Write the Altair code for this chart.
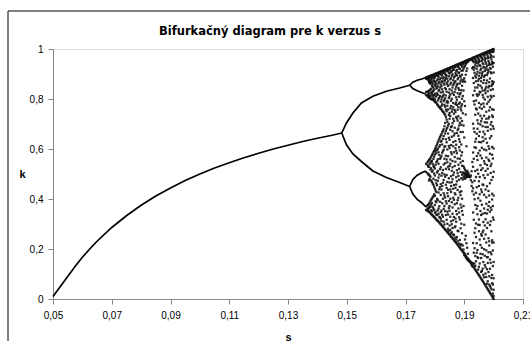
import altair as alt
import pandas as pd

TITLE = "Bifurkačný diagram pre k verzus s"

# single stable state (s < 0.148)
S_FIXED = [0.050, 0.0525, 0.055, 0.0575, 0.060, 0.0625, 0.065, 0.070, 0.075, 0.080,
           0.085, 0.090, 0.095, 0.100, 0.105, 0.110, 0.115, 0.120, 0.125, 0.130,
           0.135, 0.140, 0.145, 0.1483]
K_FIXED = [0.010, 0.050, 0.090, 0.130, 0.167, 0.200, 0.231, 0.286, 0.333, 0.375,
           0.412, 0.444, 0.474, 0.500, 0.524, 0.545, 0.565, 0.583, 0.600, 0.615,
           0.630, 0.643, 0.655, 0.664]

# period-2 branches
S_P2 = [0.1483, 0.1499, 0.1521, 0.1550, 0.1589, 0.1635, 0.1680, 0.1714]
K_P2_UPPER = [0.664, 0.704, 0.744, 0.784, 0.811, 0.831, 0.844, 0.855]
K_P2_LOWER = [0.664, 0.617, 0.580, 0.550, 0.512, 0.486, 0.466, 0.450]

# period-4 loops
S_P4 = [0.1714, 0.1725, 0.1740, 0.1755, 0.1768]
K_P4_UPPER_OUT = [0.855, 0.867, 0.875, 0.880, 0.885]
K_P4_UPPER_IN = [0.855, 0.842, 0.833, 0.826, 0.820]
K_P4_LOWER_OUT = [0.450, 0.478, 0.495, 0.505, 0.512]
K_P4_LOWER_IN = [0.450, 0.420, 0.398, 0.385, 0.370]

# scattered states, one column per s value
S_CHAOS = [0.1770, 0.1775, 0.1780, 0.1785, 0.1790, 0.1795, 0.1800, 0.1805, 0.1810, 0.1815,
           0.1820, 0.1825, 0.1830, 0.1835, 0.1840, 0.1845, 0.1850, 0.1855, 0.1860, 0.1865,
           0.1870, 0.1875, 0.1880, 0.1885, 0.1890, 0.1895, 0.1900, 0.1905, 0.1910, 0.1915,
           0.1920, 0.1925, 0.1930, 0.1935, 0.1940, 0.1945, 0.1950, 0.1955, 0.1960, 0.1965,
           0.1970, 0.1975, 0.1980, 0.1985, 0.1990, 0.1995, 0.2000]
K_CHAOS = [
    [0.887, 0.881, 0.828, 0.815, 0.541, 0.508, 0.371, 0.356],
    [0.889, 0.883, 0.879, 0.830, 0.818, 0.811, 0.547, 0.536, 0.503, 0.374, 0.362, 0.352],
    [0.891, 0.885, 0.876, 0.868, 0.833, 0.822, 0.806, 0.556, 0.528, 0.497, 0.474, 0.381, 0.365, 0.349],
    [0.893, 0.889, 0.872, 0.861, 0.838, 0.811, 0.802, 0.563, 0.545, 0.517, 0.489, 0.393, 0.370, 0.343],
    [0.895, 0.884, 0.866, 0.853, 0.827, 0.819, 0.799, 0.575, 0.552, 0.509, 0.468, 0.402, 0.384, 0.351, 0.337],
    [0.897, 0.891, 0.874, 0.846, 0.833, 0.804, 0.796, 0.587, 0.560, 0.533, 0.481, 0.457, 0.411, 0.362, 0.331],
    [0.900, 0.887, 0.869, 0.857, 0.821, 0.798, 0.789, 0.599, 0.578, 0.522, 0.494, 0.441, 0.413, 0.376, 0.345, 0.325],
    [0.902, 0.895, 0.861, 0.842, 0.813, 0.785, 0.612, 0.583, 0.547, 0.463, 0.428, 0.387, 0.338, 0.318],
    [0.904, 0.892, 0.879, 0.851, 0.817, 0.794, 0.776, 0.627, 0.601, 0.559, 0.512, 0.473, 0.395, 0.354, 0.312],
    [0.907, 0.899, 0.868, 0.836, 0.805, 0.768, 0.641, 0.608, 0.576, 0.498, 0.439, 0.371, 0.329, 0.306],
    [0.909, 0.902, 0.884, 0.858, 0.826, 0.789, 0.761, 0.654, 0.629, 0.566, 0.527, 0.459, 0.416, 0.347, 0.321, 0.299],
    [0.912, 0.894, 0.871, 0.839, 0.807, 0.779, 0.753, 0.667, 0.618, 0.585, 0.504, 0.452, 0.383, 0.337, 0.292],
    [0.914, 0.906, 0.887, 0.862, 0.818, 0.791, 0.746, 0.679, 0.652, 0.597, 0.538, 0.476, 0.423, 0.361, 0.309, 0.285],
    [0.917, 0.901, 0.876, 0.844, 0.803, 0.769, 0.737, 0.704, 0.662, 0.611, 0.543, 0.489, 0.406, 0.352, 0.278],
    [0.919, 0.911, 0.893, 0.865, 0.829, 0.786, 0.751, 0.718, 0.681, 0.627, 0.558, 0.496, 0.444, 0.382, 0.317, 0.271],
    [0.922, 0.913, 0.871, 0.852, 0.786, 0.758, 0.694, 0.662, 0.571, 0.529, 0.437, 0.411, 0.338, 0.281, 0.264],
    [0.924, 0.917, 0.902, 0.839, 0.811, 0.744, 0.721, 0.637, 0.604, 0.532, 0.466, 0.372, 0.353, 0.294, 0.257],
    [0.927, 0.908, 0.883, 0.865, 0.793, 0.772, 0.688, 0.616, 0.587, 0.491, 0.452, 0.428, 0.311, 0.262, 0.249],
    [0.929, 0.924, 0.899, 0.846, 0.823, 0.758, 0.703, 0.671, 0.552, 0.527, 0.479, 0.366, 0.341, 0.284, 0.242],
    [0.932, 0.918, 0.886, 0.862, 0.816, 0.741, 0.712, 0.654, 0.587, 0.506, 0.456, 0.397, 0.328, 0.256, 0.235],
    [0.934, 0.927, 0.903, 0.871, 0.839, 0.779, 0.748, 0.632, 0.603, 0.549, 0.445, 0.418, 0.322, 0.291, 0.228],
    [0.937, 0.916, 0.894, 0.857, 0.797, 0.776, 0.722, 0.664, 0.583, 0.515, 0.471, 0.383, 0.339, 0.248, 0.221],
    [0.939, 0.931, 0.907, 0.884, 0.844, 0.768, 0.731, 0.682, 0.653, 0.537, 0.492, 0.405, 0.362, 0.271, 0.213],
    [0.942, 0.921, 0.893, 0.862, 0.819, 0.786, 0.705, 0.629, 0.594, 0.561, 0.449, 0.427, 0.318, 0.236, 0.205],
    [0.944, 0.936, 0.913, 0.878, 0.835, 0.771, 0.754, 0.697, 0.618, 0.574, 0.483, 0.431, 0.366, 0.301, 0.219, 0.197],
    [0.947, 0.938, 0.914, 0.869, 0.812, 0.743, 0.668, 0.552, 0.506, 0.478, 0.337, 0.214, 0.189],
    [0.949, 0.946, 0.927, 0.883, 0.791, 0.646, 0.524, 0.502, 0.491, 0.297, 0.183, 0.176],
    [0.952, 0.950, 0.939, 0.897, 0.738, 0.509, 0.498, 0.485, 0.253, 0.172, 0.167],
    [0.955, 0.953, 0.948, 0.922, 0.513, 0.494, 0.489, 0.205, 0.164, 0.159],
    [0.957, 0.956, 0.952, 0.501, 0.493, 0.488, 0.158, 0.155, 0.152],
    [0.959, 0.959, 0.488, 0.488, 0.149, 0.149],
    [0.962, 0.958, 0.511, 0.452, 0.146, 0.136],
    [0.965, 0.952, 0.928, 0.884, 0.815, 0.701, 0.586, 0.529, 0.443, 0.346, 0.224, 0.143, 0.130],
    [0.967, 0.961, 0.926, 0.905, 0.833, 0.778, 0.668, 0.607, 0.473, 0.399, 0.265, 0.203, 0.141, 0.122],
    [0.970, 0.953, 0.944, 0.886, 0.871, 0.794, 0.762, 0.641, 0.605, 0.488, 0.425, 0.302, 0.248, 0.151, 0.113],
    [0.972, 0.966, 0.931, 0.909, 0.846, 0.812, 0.715, 0.681, 0.556, 0.517, 0.372, 0.339, 0.196, 0.167, 0.104],
    [0.975, 0.957, 0.949, 0.893, 0.881, 0.818, 0.784, 0.652, 0.628, 0.471, 0.452, 0.318, 0.271, 0.129, 0.095],
    [0.977, 0.970, 0.932, 0.916, 0.853, 0.827, 0.733, 0.698, 0.574, 0.535, 0.393, 0.352, 0.216, 0.181, 0.086],
    [0.980, 0.963, 0.953, 0.901, 0.893, 0.845, 0.761, 0.722, 0.605, 0.563, 0.428, 0.377, 0.253, 0.205, 0.112, 0.077],
    [0.982, 0.974, 0.939, 0.926, 0.864, 0.806, 0.782, 0.669, 0.632, 0.495, 0.456, 0.308, 0.274, 0.148, 0.097, 0.068],
    [0.985, 0.966, 0.955, 0.912, 0.895, 0.834, 0.798, 0.707, 0.659, 0.541, 0.484, 0.344, 0.294, 0.173, 0.136, 0.058],
    [0.987, 0.978, 0.941, 0.925, 0.863, 0.849, 0.749, 0.721, 0.595, 0.566, 0.407, 0.381, 0.226, 0.195, 0.088, 0.049],
    [0.990, 0.971, 0.963, 0.917, 0.904, 0.831, 0.809, 0.688, 0.673, 0.521, 0.497, 0.357, 0.305, 0.168, 0.144, 0.071, 0.039],
    [0.992, 0.983, 0.945, 0.936, 0.867, 0.852, 0.754, 0.729, 0.601, 0.552, 0.414, 0.388, 0.231, 0.214, 0.091, 0.058, 0.030],
    [0.995, 0.977, 0.967, 0.921, 0.907, 0.836, 0.813, 0.698, 0.679, 0.532, 0.504, 0.366, 0.311, 0.187, 0.145, 0.046, 0.020],
    [0.997, 0.988, 0.949, 0.939, 0.871, 0.858, 0.759, 0.734, 0.608, 0.577, 0.421, 0.398, 0.235, 0.226, 0.096, 0.063, 0.010],
    [1.000, 0.991, 0.969, 0.944, 0.906, 0.868, 0.812, 0.757, 0.681, 0.602, 0.509, 0.414, 0.317, 0.226, 0.148, 0.083, 0.037, 0.012, 0.000],
]

# in-between columns of scattered states
S_CHAOS_MID = [0.17775, 0.17825, 0.17875, 0.17925, 0.17975, 0.18025, 0.18075, 0.18125, 0.18175,
               0.18225, 0.18275, 0.18325, 0.18375, 0.18425, 0.18475, 0.18525, 0.18575, 0.18625,
               0.18675, 0.18725, 0.18775, 0.18825, 0.18875, 0.18925, 0.18975, 0.19025, 0.19075,
               0.19125, 0.19175, 0.19225, 0.19275, 0.19325, 0.19375, 0.19425, 0.19475, 0.19525,
               0.19575, 0.19625, 0.19675, 0.19725, 0.19775, 0.19825, 0.19875, 0.19925, 0.19975]
K_CHAOS_MID = [
    [0.888, 0.884, 0.877, 0.829, 0.816, 0.808, 0.551, 0.530, 0.499, 0.377, 0.360, 0.351],
    [0.891, 0.887, 0.870, 0.864, 0.835, 0.814, 0.804, 0.559, 0.539, 0.493, 0.480, 0.386, 0.368, 0.346],
    [0.894, 0.879, 0.869, 0.841, 0.824, 0.800, 0.570, 0.549, 0.523, 0.474, 0.397, 0.377, 0.355, 0.340],
    [0.896, 0.890, 0.861, 0.849, 0.830, 0.812, 0.797, 0.581, 0.541, 0.514, 0.462, 0.407, 0.368, 0.334],
    [0.898, 0.882, 0.871, 0.838, 0.816, 0.793, 0.592, 0.569, 0.528, 0.502, 0.449, 0.419, 0.357, 0.328],
    [0.901, 0.893, 0.866, 0.852, 0.809, 0.787, 0.605, 0.591, 0.537, 0.475, 0.434, 0.391, 0.349, 0.322],
    [0.903, 0.897, 0.874, 0.845, 0.823, 0.779, 0.619, 0.596, 0.551, 0.506, 0.455, 0.401, 0.336, 0.315],
    [0.906, 0.889, 0.862, 0.833, 0.801, 0.771, 0.634, 0.587, 0.541, 0.486, 0.426, 0.362, 0.341, 0.309],
    [0.908, 0.901, 0.878, 0.846, 0.812, 0.764, 0.648, 0.615, 0.561, 0.519, 0.447, 0.389, 0.326, 0.302],
    [0.911, 0.896, 0.867, 0.851, 0.798, 0.772, 0.758, 0.659, 0.633, 0.573, 0.493, 0.438, 0.354, 0.312, 0.296],
    [0.913, 0.904, 0.882, 0.829, 0.812, 0.749, 0.672, 0.641, 0.592, 0.516, 0.465, 0.401, 0.329, 0.289],
    [0.916, 0.909, 0.872, 0.857, 0.797, 0.776, 0.741, 0.691, 0.608, 0.561, 0.498, 0.414, 0.372, 0.298, 0.282],
    [0.918, 0.896, 0.884, 0.839, 0.814, 0.758, 0.728, 0.672, 0.639, 0.573, 0.521, 0.457, 0.391, 0.336, 0.275],
    [0.921, 0.914, 0.881, 0.859, 0.792, 0.773, 0.709, 0.686, 0.598, 0.547, 0.468, 0.423, 0.349, 0.301, 0.268],
    [0.923, 0.905, 0.891, 0.826, 0.804, 0.736, 0.701, 0.645, 0.612, 0.519, 0.483, 0.392, 0.364, 0.273, 0.261],
    [0.926, 0.919, 0.879, 0.858, 0.819, 0.763, 0.732, 0.677, 0.558, 0.541, 0.438, 0.401, 0.329, 0.276, 0.254],
    [0.928, 0.911, 0.893, 0.834, 0.801, 0.749, 0.691, 0.649, 0.579, 0.513, 0.467, 0.387, 0.299, 0.267, 0.247],
    [0.931, 0.916, 0.875, 0.856, 0.784, 0.767, 0.721, 0.628, 0.611, 0.496, 0.441, 0.405, 0.315, 0.258, 0.240],
    [0.933, 0.928, 0.891, 0.867, 0.828, 0.756, 0.685, 0.662, 0.568, 0.532, 0.423, 0.379, 0.287, 0.246, 0.232],
    [0.936, 0.911, 0.898, 0.849, 0.807, 0.786, 0.728, 0.617, 0.593, 0.487, 0.458, 0.352, 0.309, 0.239, 0.225],
    [0.938, 0.929, 0.879, 0.861, 0.823, 0.757, 0.714, 0.676, 0.562, 0.503, 0.436, 0.395, 0.273, 0.231, 0.217],
    [0.941, 0.922, 0.904, 0.837, 0.809, 0.781, 0.694, 0.639, 0.607, 0.521, 0.477, 0.346, 0.327, 0.222, 0.209],
    [0.943, 0.937, 0.889, 0.871, 0.824, 0.762, 0.723, 0.668, 0.546, 0.508, 0.416, 0.378, 0.283, 0.215, 0.201],
    [0.946, 0.929, 0.897, 0.853, 0.801, 0.779, 0.712, 0.587, 0.533, 0.497, 0.401, 0.352, 0.263, 0.194],
    [0.948, 0.942, 0.921, 0.876, 0.834, 0.694, 0.531, 0.504, 0.486, 0.372, 0.198, 0.186],
    [0.951, 0.947, 0.933, 0.869, 0.772, 0.517, 0.499, 0.481, 0.238, 0.179, 0.174],
    [0.954, 0.951, 0.944, 0.912, 0.611, 0.503, 0.492, 0.223, 0.169, 0.163],
    [0.956, 0.955, 0.950, 0.506, 0.496, 0.490, 0.181, 0.161, 0.157],
    [0.958, 0.957, 0.490, 0.489, 0.153, 0.151],
    [0.960, 0.958, 0.494, 0.475, 0.146, 0.143],
    [0.964, 0.955, 0.923, 0.548, 0.467, 0.431, 0.139, 0.131],
    [0.966, 0.947, 0.917, 0.864, 0.791, 0.682, 0.561, 0.418, 0.317, 0.185, 0.127],
    [0.968, 0.958, 0.935, 0.893, 0.846, 0.737, 0.629, 0.512, 0.376, 0.283, 0.172, 0.132, 0.118],
    [0.971, 0.949, 0.921, 0.899, 0.819, 0.758, 0.661, 0.572, 0.447, 0.361, 0.223, 0.185, 0.109],
    [0.973, 0.962, 0.942, 0.873, 0.857, 0.742, 0.702, 0.583, 0.501, 0.403, 0.297, 0.164, 0.118, 0.100],
    [0.976, 0.951, 0.935, 0.905, 0.829, 0.766, 0.669, 0.594, 0.488, 0.419, 0.296, 0.238, 0.142, 0.091],
    [0.978, 0.967, 0.921, 0.884, 0.871, 0.778, 0.711, 0.627, 0.516, 0.438, 0.336, 0.259, 0.164, 0.108, 0.082],
    [0.981, 0.959, 0.943, 0.908, 0.834, 0.816, 0.691, 0.647, 0.523, 0.458, 0.341, 0.267, 0.179, 0.121, 0.073],
    [0.983, 0.975, 0.927, 0.889, 0.876, 0.769, 0.733, 0.598, 0.551, 0.417, 0.362, 0.241, 0.199, 0.087, 0.063],
    [0.986, 0.961, 0.948, 0.917, 0.841, 0.823, 0.688, 0.641, 0.512, 0.438, 0.319, 0.258, 0.127, 0.102, 0.054],
    [0.988, 0.981, 0.933, 0.896, 0.874, 0.781, 0.706, 0.625, 0.536, 0.451, 0.342, 0.284, 0.167, 0.119, 0.061, 0.044],
    [0.991, 0.965, 0.952, 0.911, 0.846, 0.789, 0.722, 0.611, 0.558, 0.432, 0.372, 0.243, 0.187, 0.108, 0.034],
    [0.993, 0.986, 0.938, 0.923, 0.882, 0.797, 0.767, 0.643, 0.581, 0.463, 0.349, 0.296, 0.158, 0.121, 0.052, 0.025],
    [0.996, 0.971, 0.959, 0.903, 0.852, 0.806, 0.708, 0.652, 0.541, 0.476, 0.357, 0.271, 0.179, 0.084, 0.039, 0.015],
    [0.998, 0.989, 0.944, 0.929, 0.861, 0.839, 0.728, 0.691, 0.562, 0.488, 0.372, 0.326, 0.194, 0.132, 0.058, 0.022, 0.005],
]

X_TICKS = [0.05, 0.07, 0.09, 0.11, 0.13, 0.15, 0.17, 0.19, 0.21]
Y_TICKS = [0, 0.1, 0.2, 0.3, 0.4, 0.5, 0.6, 0.7, 0.8, 0.9, 1]

FONT = "Liberation Sans"
TITLE_FONT = "DejaVu Sans"

# assemble the continuous branches
branch_rows = []
for name, s_list, k_list in [
    ("fixed", S_FIXED, K_FIXED),
    ("p2 upper", S_P2, K_P2_UPPER),
    ("p2 lower", S_P2, K_P2_LOWER),
    ("p4 upper out", S_P4, K_P4_UPPER_OUT),
    ("p4 upper in", S_P4, K_P4_UPPER_IN),
    ("p4 lower out", S_P4, K_P4_LOWER_OUT),
    ("p4 lower in", S_P4, K_P4_LOWER_IN),
]:
    for s, k in zip(s_list, k_list):
        branch_rows.append({"s": s, "k": k, "branch": name})
branches = pd.DataFrame(branch_rows)

dot_rows = []
for s_list, k_lists in [(S_CHAOS, K_CHAOS), (S_CHAOS_MID, K_CHAOS_MID)]:
    for s, ks in zip(s_list, k_lists):
        for k in ks:
            dot_rows.append({"s": s, "k": k})
dots = pd.DataFrame(dot_rows)

x_enc = alt.X(
    "s:Q",
    scale=alt.Scale(domain=[0.05, 0.21], nice=False, zero=False),
    axis=alt.Axis(
        values=X_TICKS,
        labelExpr="replace(format(datum.value, '.2f'), '.', ',')",
        labelFlush=False,
        title="s",
        titleX=235,
        titleY=38,
        titleBaseline="middle",
        grid=False,
        labelPadding=6,
    ),
)
y_enc = alt.Y(
    "k:Q",
    scale=alt.Scale(domain=[0, 1], nice=False),
    axis=alt.Axis(
        values=Y_TICKS,
        labelExpr="datum.value == 0 ? '0' : (datum.value == 1 ? '1' : replace(format(datum.value, '.1f'), '.', ','))",
        labelFlush=False,
        title="k",
        titleAngle=0,
        titleX=-31,
        titleY=125,
        titleAlign="center",
        titleBaseline="middle",
        grid=False,
        labelPadding=5,
    ),
)

lines = alt.Chart(branches).mark_line(color="black", strokeWidth=1.7).encode(
    x=x_enc, y=y_enc, detail="branch:N", order="s:Q"
)

points = alt.Chart(dots).mark_square(size=5, color="#111111", opacity=0.9).encode(
    x="s:Q", y="k:Q"
)

# outer frame of the chart area (left and top edges) and the heading
one_row = pd.DataFrame({"a": [0]})
frame_left = alt.Chart(one_row).mark_rule(color="black", strokeWidth=1).encode(
    x=alt.value(-45), y=alt.value(-38), y2=alt.value(300)
)
frame_top = alt.Chart(one_row).mark_rule(color="black", strokeWidth=1).encode(
    x=alt.value(-45), x2=alt.value(480), y=alt.value(-38)
)
heading = alt.Chart(one_row).mark_text(
    font=TITLE_FONT, fontSize=11.5, fontWeight="bold", color="black",
    align="center", baseline="middle",
).encode(x=alt.value(217), y=alt.value(-17), text=alt.value(TITLE))

chart = (
    alt.layer(frame_left, frame_top, heading, points, lines)
    .properties(
        width=470,
        height=250,
        autosize=alt.AutoSizeParams(type="none"),
        padding={"left": 53, "top": 49, "right": 7, "bottom": 42},
    )
    .configure_view(stroke="#a6a6a6", strokeWidth=1.5)
    .configure_axis(
        labelFont=FONT,
        labelFontSize=10,
        labelColor="#555555",
        titleFont=FONT,
        titleFontSize=10,
        titleFontWeight="bold",
        titleColor="black",
        domainColor="#404040",
        tickColor="#404040",
        tickSize=4,
    )
    .configure(background="white")
)

chart.save("out.html", embed_options={"renderer": "svg", "actions": False})
